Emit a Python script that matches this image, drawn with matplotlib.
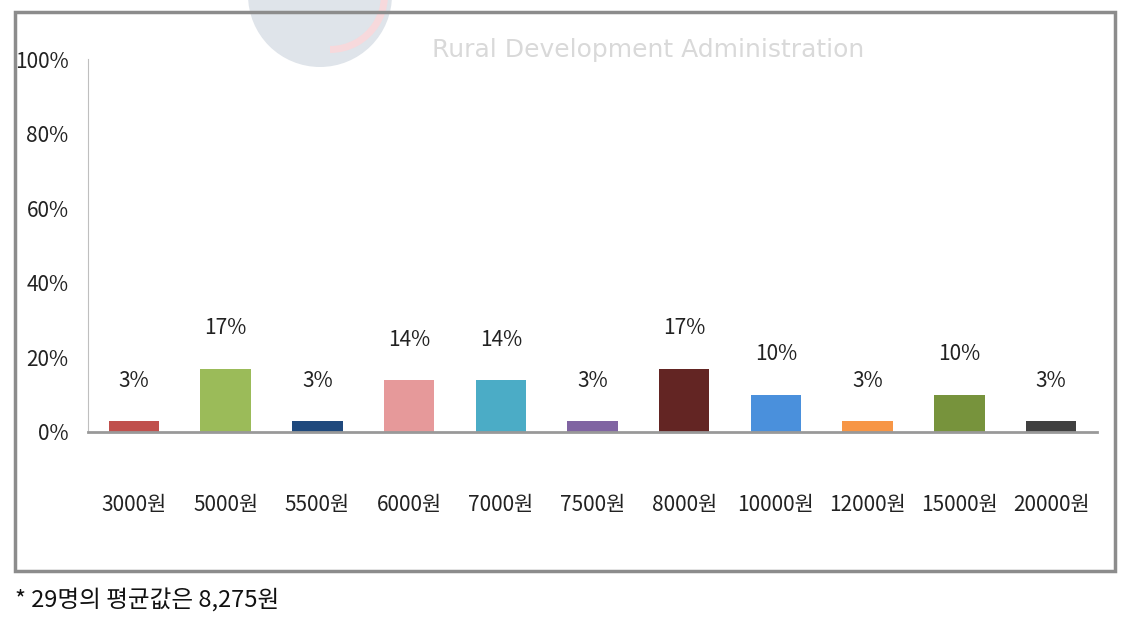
import matplotlib
matplotlib.use('Agg')
from matplotlib import pyplot as plt
from matplotlib.patches import Rectangle, Wedge
import numpy as np

categories = ['3000원', '5000원', '5500원', '6000원', '7000원', '7500원',
              '8000원', '10000원', '12000원', '15000원', '20000원']
shares = [3, 17, 3, 14, 14, 3, 17, 10, 3, 10, 3]
colors = ['#C0504D', '#9BBB59', '#1F497D', '#E6999A', '#4BACC6', '#8064A2',
          '#632523', '#4A90DC', '#F79646', '#77933C', '#404040']
yticks = [0, 20, 40, 60, 80, 100]
note = '* 29명의 평균값은 8,275원'

plt.rcParams['font.family'] = ['Noto Sans CJK KR', 'DejaVu Sans']

W, H = 1135, 621
fig = plt.figure(figsize=(W / 100, H / 100), dpi=100)
fig.patch.set_facecolor('white')

# frame around the chart
fig.patches.append(Rectangle((15 / W, 1 - 571 / H), 1100 / W, 559 / H,
                             transform=fig.transFigure, fill=False,
                             edgecolor='#8c8c8c', linewidth=2.5))

# faint watermark
wm = fig.add_axes([0, 0, 1, 1], zorder=0)
wm.set_xlim(0, W)
wm.set_ylim(H, 0)
wm.axis('off')
wm.add_patch(Wedge((320, -5), 72, 0, 180, facecolor='#dfe4ea', edgecolor='none'))
wm.add_patch(Wedge((330, -5), 58, -25, 90, width=7, facecolor='#f7d9dc', edgecolor='none'))
wm.text(648, 50, 'Rural Development Administration', ha='center', va='center',
        fontsize=18, color='#d9d9d9', family='DejaVu Sans')

ax = fig.add_axes([88 / W, 1 - 432 / H, 1009 / W, 373 / H], zorder=1)
ax.patch.set_alpha(0)
x = np.arange(len(categories))
ax.bar(x, shares, width=0.55, color=colors, zorder=2)
for xi, v in zip(x, shares):
    ax.annotate(f'{v}%', (xi, v), xytext=(0, 29), textcoords='offset points',
                ha='center', va='center', fontsize=15, color='#222222')

ax.set_xlim(-0.5, len(categories) - 0.5)
ax.set_ylim(0, 100)
ax.set_yticks(yticks)
ax.set_yticklabels([f'{t}%' for t in yticks], fontsize=15, color='#222222')
ax.set_xticks(x)
ax.set_xticklabels(categories, fontsize=15, color='#222222')
ax.tick_params(axis='x', length=0, pad=45)
ax.tick_params(axis='y', length=0, pad=14)
for s in ['top', 'right']:
    ax.spines[s].set_visible(False)
ax.spines['left'].set_color('#bfbfbf')
ax.spines['bottom'].set_color('#999999')
ax.spines['bottom'].set_linewidth(2)

fig.text(15 / W, 1 - 601 / H, note, ha='left', va='center', fontsize=17,
         color='#111111', family=['Noto Sans CJK KR', 'DejaVu Sans'])

fig.savefig('out.png', dpi=100)
